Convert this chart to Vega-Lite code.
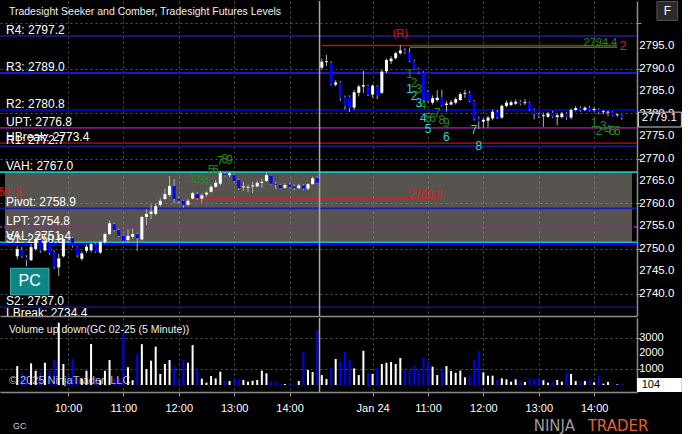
{
"$schema": "https://vega.github.io/schema/vega-lite/v6.json",
"background": "#000000",
"padding": 0,
"spacing": 0,
"datasets": {
"bars": [
{"i":1,"o":2748.3,"h":2750.5,"l":2747.6,"c":2749.9,"v":1200},
{"i":2,"o":2749.7,"h":2750.3,"l":2747.9,"c":2748.3,"v":780},
{"i":3,"o":2748.1,"h":2748.5,"l":2746.0,"c":2747.4,"v":600},
{"i":4,"o":2747.4,"h":2751.0,"l":2747.2,"c":2750.3,"v":1370},
{"i":5,"o":2749.9,"h":2752.5,"l":2749.5,"c":2752.1,"v":900},
{"i":6,"o":2751.9,"h":2752.3,"l":2749.0,"c":2749.6,"v":840},
{"i":7,"o":2749.6,"h":2752.2,"l":2749.3,"c":2751.7,"v":1410},
{"i":8,"o":2751.8,"h":2752.0,"l":2748.6,"c":2749.0,"v":890},
{"i":9,"o":2749.3,"h":2749.6,"l":2745.5,"c":2745.8,"v":1580},
{"i":10,"o":2745.8,"h":2748.8,"l":2743.9,"c":2747.8,"v":3950},
{"i":11,"o":2748.3,"h":2752.3,"l":2748.0,"c":2752.1,"v":1330},
{"i":12,"o":2752.0,"h":2752.3,"l":2751.3,"c":2751.8,"v":600},
{"i":13,"o":2752.3,"h":2752.6,"l":2750.2,"c":2750.6,"v":1650},
{"i":14,"o":2750.3,"h":2750.5,"l":2748.0,"c":2748.5,"v":500},
{"i":15,"o":2747.7,"h":2749.3,"l":2747.3,"c":2748.9,"v":400},
{"i":16,"o":2749.5,"h":2750.9,"l":2749.0,"c":2750.4,"v":900},
{"i":17,"o":2749.6,"h":2751.3,"l":2749.1,"c":2751.0,"v":2600},
{"i":18,"o":2751.0,"h":2751.3,"l":2749.0,"c":2749.3,"v":500},
{"i":19,"o":2749.1,"h":2751.8,"l":2748.8,"c":2751.4,"v":300},
{"i":20,"o":2751.4,"h":2753.5,"l":2751.0,"c":2753.2,"v":900},
{"i":21,"o":2753.2,"h":2756.2,"l":2753.0,"c":2755.6,"v":1580},
{"i":22,"o":2755.4,"h":2755.8,"l":2753.8,"c":2754.1,"v":400},
{"i":23,"o":2754.1,"h":2754.4,"l":2752.5,"c":2752.8,"v":500},
{"i":24,"o":2752.8,"h":2753.0,"l":2751.2,"c":2751.7,"v":3230},
{"i":25,"o":2751.9,"h":2754.2,"l":2751.2,"c":2752.8,"v":1120},
{"i":26,"o":2752.6,"h":2754.5,"l":2752.2,"c":2753.2,"v":300},
{"i":27,"o":2753.2,"h":2753.5,"l":2749.5,"c":2752.3,"v":1960},
{"i":28,"o":2752.0,"h":2757.3,"l":2751.8,"c":2757.0,"v":2590},
{"i":29,"o":2757.0,"h":2758.7,"l":2755.2,"c":2757.7,"v":1010},
{"i":30,"o":2757.7,"h":2759.8,"l":2756.5,"c":2758.2,"v":1540},
{"i":31,"o":2757.7,"h":2760.0,"l":2757.3,"c":2759.4,"v":2430},
{"i":32,"o":2759.7,"h":2761.2,"l":2759.3,"c":2760.6,"v":700},
{"i":33,"o":2761.0,"h":2763.3,"l":2760.8,"c":2762.1,"v":1330},
{"i":34,"o":2761.9,"h":2766.1,"l":2761.5,"c":2763.9,"v":1580},
{"i":35,"o":2763.9,"h":2765.4,"l":2760.0,"c":2761.0,"v":1200},
{"i":36,"o":2761.1,"h":2761.5,"l":2760.0,"c":2760.6,"v":360},
{"i":37,"o":2760.6,"h":2760.8,"l":2759.1,"c":2759.7,"v":1580},
{"i":38,"o":2759.7,"h":2761.0,"l":2759.5,"c":2760.6,"v":1410},
{"i":39,"o":2761.1,"h":2762.6,"l":2760.9,"c":2762.3,"v":2530},
{"i":40,"o":2762.1,"h":2762.5,"l":2760.8,"c":2761.2,"v":950},
{"i":41,"o":2761.1,"h":2762.2,"l":2760.2,"c":2761.8,"v":400},
{"i":42,"o":2762.0,"h":2762.7,"l":2761.5,"c":2762.4,"v":150},
{"i":43,"o":2762.6,"h":2764.2,"l":2762.4,"c":2763.7,"v":570},
{"i":44,"o":2763.7,"h":2765.2,"l":2763.5,"c":2764.6,"v":420},
{"i":45,"o":2764.4,"h":2767.3,"l":2764.0,"c":2766.8,"v":840},
{"i":46,"o":2766.6,"h":2767.0,"l":2766.0,"c":2766.3,"v":270},
{"i":47,"o":2766.3,"h":2767.1,"l":2765.8,"c":2766.7,"v":250},
{"i":48,"o":2766.3,"h":2766.6,"l":2764.8,"c":2765.0,"v":420},
{"i":49,"o":2765.2,"h":2765.4,"l":2763.0,"c":2763.4,"v":360},
{"i":50,"o":2763.6,"h":2764.8,"l":2762.8,"c":2763.8,"v":320},
{"i":51,"o":2763.5,"h":2764.2,"l":2762.5,"c":2763.7,"v":210},
{"i":52,"o":2763.8,"h":2764.8,"l":2762.3,"c":2764.0,"v":270},
{"i":53,"o":2763.8,"h":2765.0,"l":2763.6,"c":2764.6,"v":320},
{"i":54,"o":2764.6,"h":2765.5,"l":2763.5,"c":2764.8,"v":910},
{"i":55,"o":2765.0,"h":2766.9,"l":2764.8,"c":2766.3,"v":740},
{"i":56,"o":2766.2,"h":2766.4,"l":2764.2,"c":2764.4,"v":250},
{"i":57,"o":2764.4,"h":2764.8,"l":2763.2,"c":2764.2,"v":210},
{"i":58,"o":2764.1,"h":2764.3,"l":2763.2,"c":2763.4,"v":100},
{"i":59,"o":2763.5,"h":2764.5,"l":2763.3,"c":2764.1,"v":60},
{"i":60,"o":2764.2,"h":2764.5,"l":2763.5,"c":2763.7,"v":100},
{"i":61,"o":2763.8,"h":2764.2,"l":2763.0,"c":2763.4,"v":40},
{"i":62,"o":2763.4,"h":2764.4,"l":2763.2,"c":2764.0,"v":250},
{"i":63,"o":2764.0,"h":2764.3,"l":2763.0,"c":2763.3,"v":2110},
{"i":64,"o":2763.3,"h":2764.5,"l":2763.0,"c":2764.3,"v":950},
{"i":65,"o":2764.3,"h":2766.0,"l":2764.2,"c":2765.6,"v":820},
{"i":66,"o":2765.7,"h":2766.0,"l":2764.4,"c":2764.6,"v":3480},
{"i":67,"o":2790.2,"h":2792.2,"l":2789.8,"c":2791.5,"v":630},
{"i":68,"o":2791.4,"h":2793.0,"l":2790.6,"c":2791.6,"v":380},
{"i":69,"o":2791.2,"h":2791.6,"l":2786.2,"c":2786.5,"v":1100},
{"i":70,"o":2786.4,"h":2787.4,"l":2786.0,"c":2786.9,"v":1650},
{"i":71,"o":2786.9,"h":2787.2,"l":2782.8,"c":2783.4,"v":1480},
{"i":72,"o":2783.6,"h":2784.0,"l":2780.9,"c":2781.6,"v":2090},
{"i":73,"o":2783.7,"h":2784.0,"l":2780.3,"c":2781.2,"v":1580},
{"i":74,"o":2781.3,"h":2785.2,"l":2780.8,"c":2784.7,"v":1050},
{"i":75,"o":2784.6,"h":2786.4,"l":2783.8,"c":2786.0,"v":630},
{"i":76,"o":2786.0,"h":2789.5,"l":2784.6,"c":2786.3,"v":2170},
{"i":77,"o":2786.1,"h":2786.4,"l":2783.9,"c":2784.2,"v":700},
{"i":78,"o":2784.2,"h":2786.5,"l":2783.5,"c":2786.2,"v":700},
{"i":79,"o":2786.0,"h":2786.3,"l":2783.2,"c":2784.0,"v":1100},
{"i":80,"o":2784.6,"h":2789.7,"l":2784.3,"c":2789.3,"v":1330},
{"i":81,"o":2789.4,"h":2792.2,"l":2789.0,"c":2791.9,"v":1410},
{"i":82,"o":2791.6,"h":2792.7,"l":2791.0,"c":2792.2,"v":1460},
{"i":83,"o":2792.3,"h":2793.7,"l":2792.0,"c":2793.4,"v":1330},
{"i":84,"o":2793.4,"h":2795.2,"l":2793.1,"c":2794.0,"v":1710},
{"i":85,"o":2794.0,"h":2794.5,"l":2793.2,"c":2793.6,"v":990},
{"i":86,"o":2793.6,"h":2794.5,"l":2791.4,"c":2791.7,"v":990},
{"i":87,"o":2791.7,"h":2792.0,"l":2789.7,"c":2790.0,"v":1200},
{"i":88,"o":2789.9,"h":2790.2,"l":2788.8,"c":2789.1,"v":950},
{"i":89,"o":2789.1,"h":2789.4,"l":2782.5,"c":2782.9,"v":1750},
{"i":90,"o":2784.8,"h":2785.2,"l":2782.4,"c":2782.8,"v":1480},
{"i":91,"o":2782.4,"h":2784.0,"l":2782.0,"c":2783.4,"v":1160},
{"i":92,"o":2783.0,"h":2785.2,"l":2782.6,"c":2783.5,"v":630},
{"i":93,"o":2783.6,"h":2785.3,"l":2781.6,"c":2781.9,"v":950},
{"i":94,"o":2781.9,"h":2782.8,"l":2780.4,"c":2782.2,"v":1200},
{"i":95,"o":2782.0,"h":2783.0,"l":2781.8,"c":2782.5,"v":890},
{"i":96,"o":2782.4,"h":2783.6,"l":2782.0,"c":2783.2,"v":780},
{"i":97,"o":2783.0,"h":2784.7,"l":2782.8,"c":2784.3,"v":910},
{"i":98,"o":2784.4,"h":2785.3,"l":2783.4,"c":2784.6,"v":490},
{"i":99,"o":2784.5,"h":2785.0,"l":2782.5,"c":2782.8,"v":630},
{"i":100,"o":2782.8,"h":2783.0,"l":2778.4,"c":2778.8,"v":1580},
{"i":101,"o":2778.9,"h":2779.3,"l":2776.6,"c":2778.2,"v":2150},
{"i":102,"o":2778.2,"h":2779.0,"l":2776.8,"c":2778.6,"v":800},
{"i":103,"o":2778.4,"h":2779.5,"l":2776.9,"c":2779.1,"v":590},
{"i":104,"o":2778.9,"h":2780.9,"l":2778.5,"c":2780.4,"v":590},
{"i":105,"o":2780.3,"h":2780.8,"l":2778.8,"c":2779.2,"v":320},
{"i":106,"o":2779.1,"h":2782.0,"l":2778.8,"c":2781.7,"v":420},
{"i":107,"o":2781.7,"h":2782.9,"l":2781.4,"c":2782.4,"v":360},
{"i":108,"o":2781.9,"h":2782.9,"l":2781.6,"c":2782.5,"v":210},
{"i":109,"o":2782.2,"h":2783.1,"l":2781.9,"c":2782.6,"v":360},
{"i":110,"o":2782.6,"h":2783.0,"l":2781.8,"c":2782.2,"v":250},
{"i":111,"o":2782.3,"h":2783.2,"l":2781.9,"c":2782.5,"v":190},
{"i":112,"o":2782.4,"h":2782.6,"l":2780.6,"c":2780.9,"v":420},
{"i":113,"o":2780.9,"h":2781.1,"l":2778.7,"c":2779.9,"v":380},
{"i":114,"o":2779.8,"h":2780.1,"l":2779.0,"c":2779.4,"v":460},
{"i":115,"o":2779.4,"h":2780.2,"l":2777.0,"c":2779.6,"v":300},
{"i":116,"o":2779.3,"h":2780.4,"l":2779.0,"c":2780.0,"v":150},
{"i":117,"o":2780.2,"h":2780.6,"l":2779.0,"c":2779.3,"v":190},
{"i":118,"o":2779.2,"h":2780.0,"l":2777.4,"c":2779.6,"v":320},
{"i":119,"o":2779.2,"h":2780.4,"l":2778.9,"c":2780.0,"v":210},
{"i":120,"o":2780.0,"h":2780.3,"l":2778.6,"c":2779.1,"v":800},
{"i":121,"o":2779.1,"h":2781.1,"l":2778.7,"c":2780.8,"v":700},
{"i":122,"o":2780.8,"h":2781.7,"l":2780.5,"c":2781.2,"v":250},
{"i":123,"o":2781.2,"h":2781.6,"l":2780.4,"c":2780.8,"v":210},
{"i":124,"o":2780.8,"h":2781.6,"l":2780.5,"c":2781.3,"v":250},
{"i":125,"o":2781.3,"h":2781.7,"l":2780.5,"c":2780.8,"v":300},
{"i":126,"o":2780.8,"h":2781.4,"l":2780.4,"c":2781.0,"v":170},
{"i":127,"o":2780.9,"h":2781.2,"l":2779.8,"c":2780.3,"v":570},
{"i":128,"o":2780.3,"h":2780.8,"l":2779.8,"c":2780.5,"v":85},
{"i":129,"o":2780.2,"h":2780.6,"l":2779.4,"c":2780.4,"v":190},
{"i":130,"o":2780.3,"h":2780.5,"l":2779.3,"c":2779.5,"v":40},
{"i":131,"o":2779.6,"h":2780.0,"l":2779.3,"c":2779.8,"v":40},
{"i":132,"o":2779.6,"h":2779.8,"l":2778.6,"c":2779.1,"v":104}
],
"levels": [
{"name":"R4","p":2797.2},{"name":"R3","p":2789.0},{"name":"R2","p":2780.8},{"name":"UPT","p":2776.8},
{"name":"HBreak","p":2773.4},{"name":"R1","p":2772.7},{"name":"VAH","p":2767.0},{"name":"Pivot","p":2758.9},
{"name":"LPT","p":2754.8},{"name":"VAL","p":2751.4},{"name":"S1","p":2750.8},{"name":"S2","p":2737.0},{"name":"LBreak","p":2734.4}
],
"segs": [
{"name":"hi","p":2795.1,"i0":67,"i1":131},
{"name":"seek","p":2794.7,"i0":86,"i1":131},
{"name":"mid","p":2761.0,"i0":39,"i1":93}
],
"notes": [
{"i":39,"p":2765.6,"t":"1","k":"g"},{"i":40,"p":2765.4,"t":"2","k":"g"},{"i":41,"p":2765.2,"t":"3","k":"g"},
{"i":42,"p":2765.0,"t":"4","k":"g"},{"i":43,"p":2767.4,"t":"5","k":"g"},{"i":44,"p":2767.4,"t":"6","k":"g"},
{"i":45,"p":2769.4,"t":"7","k":"g"},{"i":46,"p":2769.8,"t":"8","k":"g"},{"i":47,"p":2769.6,"t":"9","k":"g"},
{"i":86,"p":2788.7,"t":"1","k":"g"},{"i":87,"p":2786.8,"t":"2","k":"g"},{"i":88,"p":2785.4,"t":"3","k":"g"},
{"i":89,"p":2782.0,"t":"4","k":"g"},{"i":90,"p":2779.1,"t":"5","k":"g"},{"i":91,"p":2778.9,"t":"6","k":"g"},
{"i":92,"p":2780.2,"t":"7","k":"g"},{"i":93,"p":2778.5,"t":"8","k":"g"},{"i":94,"p":2778.0,"t":"9","k":"g"},
{"i":86,"p":2785.4,"t":"1","k":"c"},{"i":87,"p":2783.9,"t":"2","k":"c"},{"i":88,"p":2782.4,"t":"3","k":"c"},
{"i":89,"p":2779.1,"t":"4","k":"c"},{"i":90,"p":2776.6,"t":"5","k":"c"},{"i":94,"p":2774.8,"t":"6","k":"c"},
{"i":100,"p":2776.3,"t":"7","k":"c"},{"i":101,"p":2772.8,"t":"8","k":"c"},
{"i":126,"p":2778.0,"t":"1","k":"g"},{"i":127,"p":2776.1,"t":"2","k":"g"},{"i":128,"p":2777.2,"t":"3","k":"g"},
{"i":129,"p":2776.3,"t":"4","k":"g"},{"i":130,"p":2776.1,"t":"5","k":"g"},{"i":131,"p":2776.1,"t":"6","k":"g"}
],
"pticks": [{"v":2740},{"v":2745},{"v":2750},{"v":2755},{"v":2760},{"v":2765},{"v":2770},{"v":2775},{"v":2780},{"v":2785},{"v":2790},{"v":2795}],
"vticks": [{"v":1000},{"v":2000},{"v":3000}]
},
"vconcat": [
{
"width": 637, "height": 315,
"resolve": {"scale": {"color": "independent", "strokeWidth": "independent", "strokeDash": "independent"}},
"layer": [
{"data":{"values":[{"lo":2751.4,"hi":2767.0}]},
 "mark":{"type":"rect","color":"#a59f95","opacity":0.53},
 "encoding":{
  "x":{"datum":-1.65,"type":"quantitative","title":null,"scale":{"domain":[-1.65,134.2],"nice":false,"zero":false}},
  "x2":{"datum":134.2},
  "y":{"field":"lo","type":"quantitative","title":null,"scale":{"domain":[2735.0,2805],"nice":false,"zero":false},
   "axis":{"orient":"right","values":[2740,2745,2750,2755,2760,2765,2770,2775,2780,2785,2790,2795,2800],"labels":false,"tickColor":"#9a9a9a","tickSize":4,"domainColor":"#8c8c8c","domainWidth":1.5,"grid":true,"gridColor":"#555555","gridDash":[2,3]}},
  "y2":{"field":"hi"}}},
{"data":{"name":"levels"},
 "mark":{"type":"rule","clip":true},
 "encoding":{
  "y":{"field":"p","type":"quantitative","title":null,"scale":{"domain":[2735.0,2805],"nice":false,"zero":false}},
  "color":{"field":"name","type":"nominal","legend":null,"scale":{"domain":["R4","R3","R2","UPT","HBreak","R1","VAH","Pivot","LPT","VAL","S1","S2","LBreak"],"range":["#16167a","#1818c8","#0000ee","#7a1a7a","#8a0c0c","#18188c","#1fbfbf","#1a1ab4","#8a2a8a","#1fbfbf","#0000ee","#16167a","#8a0c0c"]}},
  "strokeWidth":{"field":"name","type":"ordinal","legend":null,"scale":{"domain":["R4","R3","R2","UPT","HBreak","R1","VAH","Pivot","LPT","VAL","S1","S2","LBreak"],"range":[2,1.5,2,2,3,1.5,2,1.2,1.5,2,2,2,2]}},
  "strokeDash":{"field":"name","type":"nominal","legend":null,"scale":{"domain":["R4","R3","R2","UPT","HBreak","R1","VAH","Pivot","LPT","VAL","S1","S2","LBreak"],"range":[[1,0],[1,0],[1,0],[1,0],[1,0],[1,0],[1,0],[1,0],[3,2],[1,0],[1,0],[1,0],[1,0]]}}}},
{"data":{"name":"segs"},
 "mark":{"type":"rule","strokeWidth":1.5},
 "encoding":{
  "x":{"field":"i0","type":"quantitative","title":null,"scale":{"domain":[-1.65,134.2],"nice":false,"zero":false},
   "axis":{"orient":"bottom","values":[12,24,36,48,60,78,90,102,114,126],"labels":false,"ticks":false,"domain":true,"domainColor":"#8c8c8c","domainWidth":1.5,"grid":true,"gridColor":"#555555","gridDash":[2,3],"gridWidth":1}},
  "x2":{"field":"i1"},
  "y":{"field":"p","type":"quantitative","title":null,"scale":{"domain":[2735.0,2805],"nice":false,"zero":false}},
  "color":{"field":"name","type":"nominal","legend":null,"scale":{"domain":["hi","seek","mid"],"range":["#b01818","#1a8a1a","#e01b1b"]}}}},
{"data":{"values":[{"b":1}]},
 "mark":{"type":"rule","color":"#a8a8a8","strokeWidth":1.5},
 "encoding":{"x":{"datum":66.5,"type":"quantitative","title":null,"scale":{"domain":[-1.65,134.2],"nice":false,"zero":false}}}},
{"data":{"name":"bars"},
 "mark":{"type":"rule","color":"#b0b0b0","strokeWidth":1},
 "encoding":{
  "x":{"field":"i","type":"quantitative","title":null,"scale":{"domain":[-1.65,134.2],"nice":false,"zero":false}},
  "y":{"field":"l","type":"quantitative","title":null,"scale":{"domain":[2735.0,2805],"nice":false,"zero":false}},
  "y2":{"field":"h"}}},
{"data":{"name":"bars"},
 "mark":{"type":"bar","size":3},
 "encoding":{
  "x":{"field":"i","type":"quantitative","title":null,"scale":{"domain":[-1.65,134.2],"nice":false,"zero":false}},
  "y":{"field":"o","type":"quantitative","title":null,"scale":{"domain":[2735.0,2805],"nice":false,"zero":false}},
  "y2":{"field":"c"},
  "color":{"condition":{"test":"datum.c >= datum.o","value":"#ffffff"},"value":"#0000ff"}}},
{"data":{"name":"levels"},
 "transform":[{"calculate":"datum.name + ': ' + format(datum.p, '.1f')","as":"lab"}],
 "mark":{"type":"text","align":"left","baseline":"alphabetic","dy":-2,"font":"Liberation Sans","fontSize":12,"color":"#ffffff","clip":true},
 "encoding":{
  "x":{"datum":-1.44,"type":"quantitative","title":null,"scale":{"domain":[-1.65,134.2],"nice":false,"zero":false}},
  "y":{"field":"p","type":"quantitative","title":null,"scale":{"domain":[2735.0,2805],"nice":false,"zero":false}},
  "text":{"field":"lab"}}},
{"data":{"name":"notes"},
 "mark":{"type":"text","align":"center","baseline":"middle","font":"Liberation Sans","fontSize":12},
 "encoding":{
  "x":{"field":"i","type":"quantitative","title":null,"scale":{"domain":[-1.65,134.2],"nice":false,"zero":false}},
  "y":{"field":"p","type":"quantitative","title":null,"scale":{"domain":[2735.0,2805],"nice":false,"zero":false}},
  "text":{"field":"t"},
  "color":{"field":"k","type":"nominal","legend":null,"scale":{"domain":["g","c"],"range":["#1e8c1e","#22d4dc"]}}}},
{"data":{"name":"pticks"},
 "transform":[{"calculate":"format(datum.v, '.1f')","as":"lab"}],
 "mark":{"type":"text","align":"left","baseline":"middle","font":"Liberation Sans","fontSize":11.5,"color":"#ffffff"},
 "encoding":{
  "x":{"datum":135.75,"type":"quantitative","title":null,"scale":{"domain":[-1.65,134.2],"nice":false,"zero":false}},
  "y":{"field":"v","type":"quantitative","title":null,"scale":{"domain":[2735.0,2805],"nice":false,"zero":false}},
  "text":{"field":"lab"}}},
{"data":{"values":[{"t":"Tradesight Seeker and Comber, Tradesight Futures Levels"}]},
 "mark":{"type":"text","align":"left","baseline":"alphabetic","font":"Liberation Sans","fontSize":10.5,"color":"#eeeeee"},
 "encoding":{
  "x":{"datum":-0.8,"type":"quantitative","title":null,"scale":{"domain":[-1.65,134.2],"nice":false,"zero":false}},
  "y":{"datum":2802.0,"type":"quantitative","title":null,"scale":{"domain":[2735.0,2805],"nice":false,"zero":false}},
  "text":{"field":"t"}}},
{"data":{"values":[{"t":"(R)"}]},
 "mark":{"type":"text","align":"center","baseline":"middle","font":"Liberation Sans","fontSize":11,"color":"#e31b1b"},
 "encoding":{
  "x":{"datum":84,"type":"quantitative","title":null,"scale":{"domain":[-1.65,134.2],"nice":false,"zero":false}},
  "y":{"datum":2797.6,"type":"quantitative","title":null,"scale":{"domain":[2735.0,2805],"nice":false,"zero":false}},
  "text":{"field":"t"}}},
{"data":{"values":[{"t":"2"}]},
 "mark":{"type":"text","align":"center","baseline":"middle","font":"Liberation Sans","fontSize":13,"color":"#e31b1b"},
 "encoding":{
  "x":{"datum":132.3,"type":"quantitative","title":null,"scale":{"domain":[-1.65,134.2],"nice":false,"zero":false}},
  "y":{"datum":2794.9,"type":"quantitative","title":null,"scale":{"domain":[2735.0,2805],"nice":false,"zero":false}},
  "text":{"field":"t"}}},
{"data":{"values":[{"t":"2794.4"}]},
 "mark":{"type":"text","align":"right","baseline":"alphabetic","font":"Liberation Sans","fontSize":11,"color":"#1e8c1e"},
 "encoding":{
  "x":{"datum":131,"type":"quantitative","title":null,"scale":{"domain":[-1.65,134.2],"nice":false,"zero":false}},
  "y":{"datum":2794.9,"type":"quantitative","title":null,"scale":{"domain":[2735.0,2805],"nice":false,"zero":false}},
  "text":{"field":"t"}}},
{"data":{"values":[{"t":"2760.8"}]},
 "mark":{"type":"text","align":"left","baseline":"alphabetic","font":"Liberation Sans","fontSize":11,"color":"#e01b1b"},
 "encoding":{
  "x":{"datum":85.8,"type":"quantitative","title":null,"scale":{"domain":[-1.65,134.2],"nice":false,"zero":false}},
  "y":{"datum":2761.2,"type":"quantitative","title":null,"scale":{"domain":[2735.0,2805],"nice":false,"zero":false}},
  "text":{"field":"t"}}},
{"data":{"values":[{"t":"2761.3"}]},
 "mark":{"type":"text","align":"right","baseline":"alphabetic","font":"Liberation Sans","fontSize":12,"color":"#e01b1b","clip":true},
 "encoding":{
  "x":{"datum":1.95,"type":"quantitative","title":null,"scale":{"domain":[-1.65,134.2],"nice":false,"zero":false}},
  "y":{"datum":2761.7,"type":"quantitative","title":null,"scale":{"domain":[2735.0,2805],"nice":false,"zero":false}},
  "text":{"field":"t"}}},
{"data":{"values":[{"a":1}]},
 "mark":{"type":"rect","color":"#0e8585","stroke":"#3fb0b0","strokeWidth":1},
 "encoding":{
  "x":{"datum":-0.44,"type":"quantitative","title":null,"scale":{"domain":[-1.65,134.2],"nice":false,"zero":false}},
  "x2":{"datum":7.88},
  "y":{"datum":2739.7,"type":"quantitative","title":null,"scale":{"domain":[2735.0,2805],"nice":false,"zero":false}},
  "y2":{"datum":2745.6}}},
{"data":{"values":[{"t":"PC"}]},
 "mark":{"type":"text","align":"center","baseline":"middle","font":"Liberation Sans","fontSize":16,"color":"#ffffff"},
 "encoding":{
  "x":{"datum":3.7,"type":"quantitative","title":null,"scale":{"domain":[-1.65,134.2],"nice":false,"zero":false}},
  "y":{"datum":2742.7,"type":"quantitative","title":null,"scale":{"domain":[2735.0,2805],"nice":false,"zero":false}},
  "text":{"field":"t"}}},
{"data":{"values":[{"a":1}]},
 "mark":{"type":"rect","color":"#000000","stroke":"#d0d0d0","strokeWidth":1},
 "encoding":{
  "x":{"datum":135.6,"type":"quantitative","title":null,"scale":{"domain":[-1.65,134.2],"nice":false,"zero":false}},
  "x2":{"datum":144.9},
  "y":{"datum":2777.0,"type":"quantitative","title":null,"scale":{"domain":[2735.0,2805],"nice":false,"zero":false}},
  "y2":{"datum":2780.3}}},
{"data":{"values":[{"t":"2779.1"}]},
 "mark":{"type":"text","align":"center","baseline":"middle","font":"Liberation Sans","fontSize":11.5,"color":"#ffffff"},
 "encoding":{
  "x":{"datum":140.1,"type":"quantitative","title":null,"scale":{"domain":[-1.65,134.2],"nice":false,"zero":false}},
  "y":{"datum":2779.1,"type":"quantitative","title":null,"scale":{"domain":[2735.0,2805],"nice":false,"zero":false}},
  "text":{"field":"t"}}},
{"data":{"values":[{"a":1}]},
 "mark":{"type":"rect","color":"#2a2a2a","stroke":"#555555","strokeWidth":1},
 "encoding":{
  "x":{"datum":139.6,"type":"quantitative","title":null,"scale":{"domain":[-1.65,134.2],"nice":false,"zero":false}},
  "x2":{"datum":144.1},
  "y":{"datum":2800.7,"type":"quantitative","title":null,"scale":{"domain":[2735.0,2805],"nice":false,"zero":false}},
  "y2":{"datum":2804.9}}},
{"data":{"values":[{"t":"F"}]},
 "mark":{"type":"text","align":"center","baseline":"middle","font":"Liberation Sans","fontSize":12,"color":"#ffffff"},
 "encoding":{
  "x":{"datum":141.85,"type":"quantitative","title":null,"scale":{"domain":[-1.65,134.2],"nice":false,"zero":false}},
  "y":{"datum":2802.8,"type":"quantitative","title":null,"scale":{"domain":[2735.0,2805],"nice":false,"zero":false}},
  "text":{"field":"t"}}}
]
},
{
"width": 637, "height": 74,
"layer": [
{"data":{"name":"bars"},
 "mark":{"type":"bar","size":2},
 "encoding":{
  "x":{"field":"i","type":"quantitative","title":null,"scale":{"domain":[-1.65,134.2],"nice":false,"zero":false},
   "axis":{"orient":"bottom","values":[12,24,36,48,60,78,90,102,114,126],"labelExpr":"datum.value == 78 ? 'Jan 24' : ((datum.value < 66 ? datum.value : datum.value - 66) / 12 + 9) + ':00'","labelOverlap":false,"labelColor":"#ffffff","labelFont":"Liberation Sans","labelFontSize":11,"tickColor":"#9a9a9a","tickSize":4,"domainColor":"#8c8c8c","domainWidth":1.5,"labelPadding":6,"grid":true,"gridColor":"#555555","gridDash":[2,3],"gridWidth":1}},
  "y":{"field":"v","type":"quantitative","title":null,"scale":{"domain":[-444,4248],"nice":false,"zero":false},
   "axis":{"orient":"right","values":[1000,2000,3000],"labels":false,"tickColor":"#9a9a9a","tickSize":4,"domainColor":"#8c8c8c","domainWidth":1.5,"grid":true,"gridColor":"#555555","gridDash":[2,3]}},
  "y2":{"datum":0},
  "color":{"condition":{"test":"datum.c >= datum.o","value":"#ffffff"},"value":"#0000ff"}}},
{"data":{"values":[{"b":1}]},
 "mark":{"type":"rule","color":"#a8a8a8","strokeWidth":1.5},
 "encoding":{"x":{"datum":66.5,"type":"quantitative","title":null,"scale":{"domain":[-1.65,134.2],"nice":false,"zero":false}}}},
{"data":{"name":"vticks"},
 "mark":{"type":"text","align":"left","baseline":"middle","font":"Liberation Sans","fontSize":11,"color":"#ffffff"},
 "encoding":{
  "x":{"datum":135.75,"type":"quantitative","title":null,"scale":{"domain":[-1.65,134.2],"nice":false,"zero":false}},
  "y":{"field":"v","type":"quantitative","title":null,"scale":{"domain":[-444,4248],"nice":false,"zero":false}},
  "text":{"field":"v","type":"quantitative","format":"d"}}},
{"data":{"values":[{"t":"Volume up down(GC 02-25 (5 Minute))"}]},
 "mark":{"type":"text","align":"left","baseline":"alphabetic","font":"Liberation Sans","fontSize":10.5,"color":"#eeeeee"},
 "encoding":{
  "x":{"datum":-0.8,"type":"quantitative","title":null,"scale":{"domain":[-1.65,134.2],"nice":false,"zero":false}},
  "y":{"datum":3316,"type":"quantitative","title":null,"scale":{"domain":[-444,4248],"nice":false,"zero":false}},
  "text":{"field":"t"}}},
{"data":{"values":[{"t":"© 2025 NinjaTrader, LLC"}]},
 "mark":{"type":"text","align":"left","baseline":"alphabetic","font":"Liberation Sans","fontSize":11,"color":"#d8d8d8","opacity":0.85},
 "encoding":{
  "x":{"datum":-0.8,"type":"quantitative","title":null,"scale":{"domain":[-1.65,134.2],"nice":false,"zero":false}},
  "y":{"datum":63,"type":"quantitative","title":null,"scale":{"domain":[-444,4248],"nice":false,"zero":false}},
  "text":{"field":"t"}}},
{"data":{"values":[{"a":1}]},
 "mark":{"type":"rect","color":"#ffffff"},
 "encoding":{
  "x":{"datum":135.3,"type":"quantitative","title":null,"scale":{"domain":[-1.65,134.2],"nice":false,"zero":false}},
  "x2":{"datum":145.0},
  "y":{"datum":-444,"type":"quantitative","title":null,"scale":{"domain":[-444,4248],"nice":false,"zero":false}},
  "y2":{"datum":444}}},
{"data":{"values":[{"t":"104"}]},
 "mark":{"type":"text","align":"center","baseline":"middle","font":"Liberation Sans","fontSize":11,"color":"#000000"},
 "encoding":{
  "x":{"datum":138.3,"type":"quantitative","title":null,"scale":{"domain":[-1.65,134.2],"nice":false,"zero":false}},
  "y":{"datum":0,"type":"quantitative","title":null,"scale":{"domain":[-444,4248],"nice":false,"zero":false}},
  "text":{"field":"t"}}},
{"data":{"values":[{"t":"GC"}]},
 "mark":{"type":"text","align":"left","baseline":"alphabetic","font":"Liberation Sans","fontSize":9,"color":"#cccccc"},
 "encoding":{
  "x":{"datum":0.06,"type":"quantitative","title":null,"scale":{"domain":[-1.65,134.2],"nice":false,"zero":false}},
  "y":{"datum":-2790,"type":"quantitative","title":null,"scale":{"domain":[-444,4248],"nice":false,"zero":false}},
  "text":{"field":"t"}}},
{"data":{"values":[{"t":"NINJA"}]},
 "mark":{"type":"text","align":"left","baseline":"alphabetic","font":"DejaVu Sans","fontSize":15,"fontWeight":"normal","color":"#9a9a9a"},
 "encoding":{
  "x":{"datum":112.9,"type":"quantitative","title":null,"scale":{"domain":[-1.65,134.2],"nice":false,"zero":false}},
  "y":{"datum":-2917,"type":"quantitative","title":null,"scale":{"domain":[-444,4248],"nice":false,"zero":false}},
  "text":{"field":"t"}}},
{"data":{"values":[{"t":"TRADER"}]},
 "mark":{"type":"text","align":"left","baseline":"alphabetic","font":"DejaVu Sans","fontSize":15,"color":"#e8612c"},
 "encoding":{
  "x":{"datum":124.6,"type":"quantitative","title":null,"scale":{"domain":[-1.65,134.2],"nice":false,"zero":false}},
  "y":{"datum":-2917,"type":"quantitative","title":null,"scale":{"domain":[-444,4248],"nice":false,"zero":false}},
  "text":{"field":"t"}}}
]
}
],
"config": {"view": {"stroke": null}, "axis": {"labelFont": "Liberation Sans"}}
}
